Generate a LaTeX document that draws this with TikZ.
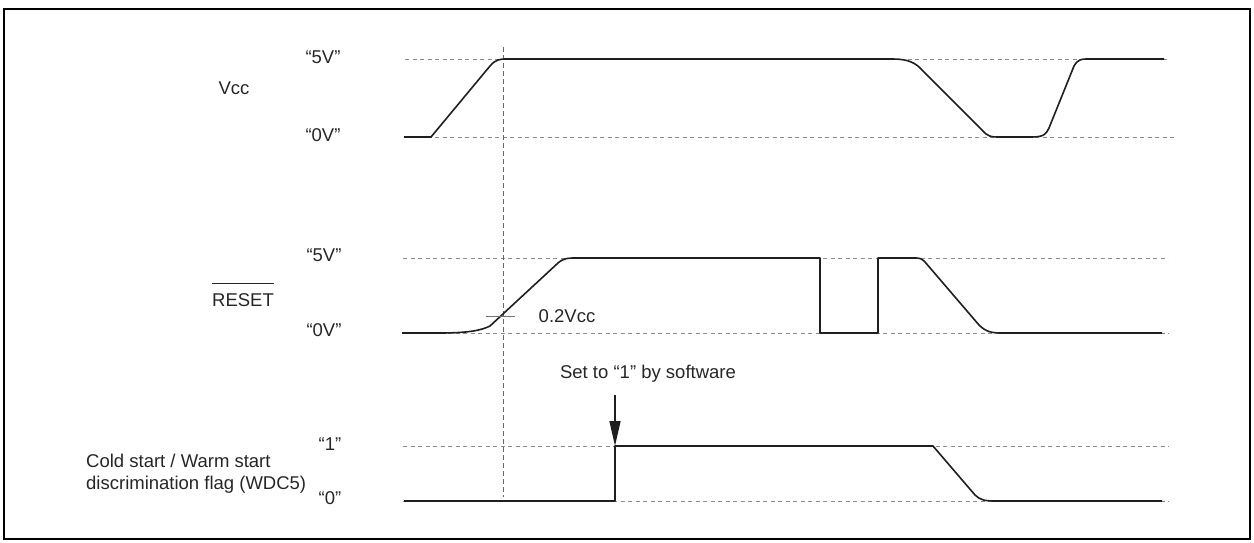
\documentclass[tikz,border=0pt]{standalone}
\usepackage{fontspec}
\setmainfont{Liberation Sans}
\usetikzlibrary{arrows.meta}
\begin{document}
\begin{tikzpicture}[x=1pt,y=-1pt,
  every node/.style={font=\fontsize{18.5}{22}\selectfont, text=black!85, inner sep=0pt},
  wave/.style={line width=1.6pt, draw=black!88, line join=round},
  level/.style={line width=0.8pt, draw=black!45, dash pattern=on 4pt off 3.5pt},
  marker/.style={line width=0.8pt, draw=black!60, dash pattern=on 5pt off 3pt},
  frame/.style={line width=2.2pt, draw=black}]
\useasboundingbox (0,0) rectangle (1254,543);
\draw[frame] (4,9) rectangle (1250,539);

% ---------- level lines ----------
\draw[level] (405,59) -- (1170,59);
\draw[level] (405,137) -- (1177,137);
\draw[level] (403,258) -- (1168,258);
\draw[level] (403,333) -- (1169,333);
\draw[level] (403,446) -- (1169,446);
\draw[level] (403,501) -- (1169,501);
\draw[marker] (503,47) -- (503,497);

% ---------- labels ----------
\node (vcc) at (234,88) {Vcc};
\node (v5a) at (323,57) {“5V”};
\node (v0a) at (323,135) {“0V”};
\node[anchor=base] (reset) at (243,306.5) {RESET};
\draw[line width=1pt, draw=black!85] ([yshift=10pt]reset.north west) -- ([yshift=10pt]reset.north east);
\node (v5b) at (324,255) {“5V”};
\node (v0b) at (324,330) {“0V”};
\node (f1) at (330,444) {“1”};
\node (f0) at (330,498) {“0”};
\node[anchor=west, align=left] (flag) at (86,474) {Cold start / Warm start\\discrimination flag (WDC5)};
\node (thr) at (567,316) {0.2Vcc};
\node (sw) at (648,374) {Set to “1” by software};

% ---------- Vcc waveform ----------
\draw[wave] (404,137) -- (431,137) -- (490,66)
  .. controls (496,59) and (500,59) .. (508,59) -- (893,59)
  .. controls (908,59) and (916,63) .. (922,70) -- (982,130)
  .. controls (988,137) and (992,137) .. (998,137) -- (1032,137)
  .. controls (1044,137) and (1046,134) .. (1049,128) -- (1074,66)
  .. controls (1078,59) and (1082,59) .. (1087,59) -- (1164,59);

% ---------- RESET waveform ----------
\draw[wave] (402,333) -- (440,333)
  .. controls (470,333) and (482,330) .. (490,326) -- (558,263)
  .. controls (564,258) and (568,258) .. (576,258) -- (820,258)
  -- (820,333) -- (878,333) -- (878,258) -- (916,258)
  .. controls (920,258) and (922,259) .. (925,262) -- (979,325)
  .. controls (986,332) and (992,333) .. (1002,333) -- (1162,333);
\draw[line width=0.8pt, draw=black!55] (486,316) -- (515,316);

% ---------- flag waveform ----------
\draw[wave] (404,501) -- (615,501) -- (615,446) -- (933,446) -- (975,495)
  .. controls (980,500) and (985,501) .. (995,501) -- (1162,501);

% ---------- arrow ----------
\coordinate (arrS) at (615,395);
\coordinate (arrE) at (615,446);
\draw[line width=1.5pt, draw=black!88, -{Triangle[length=25pt,width=11pt]}] (arrS) -- (arrE);
\end{tikzpicture}
\end{document}
